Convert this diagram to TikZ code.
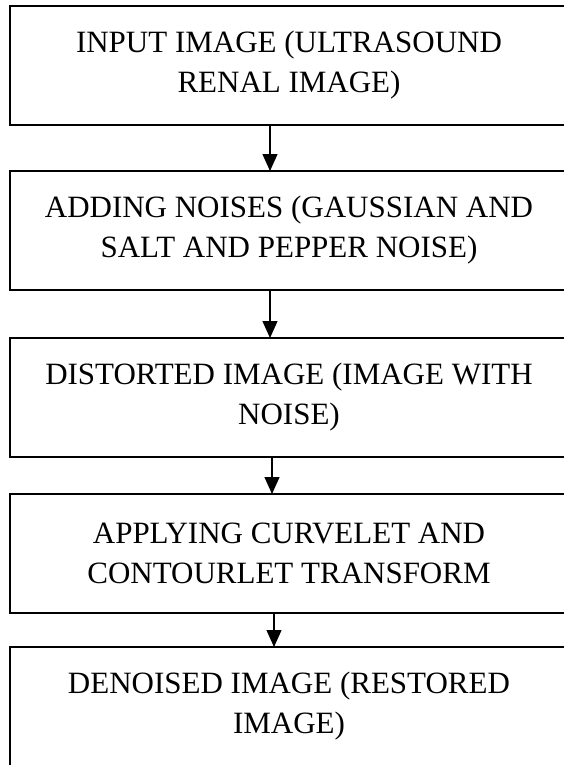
\documentclass[tikz,border=0pt]{standalone}
\usepackage{fontspec}
\setmainfont{Liberation Serif}
\usetikzlibrary{positioning,arrows.meta}
\begin{document}
\begin{tikzpicture}[line width=1.5pt,align=center,
    every node/.style={draw,rectangle,inner sep=0,outer sep=0,minimum width=558pt,minimum height=119pt,font=\fontsize{31}{40}\selectfont},
    flow/.style={line width=1.3pt,-{Triangle[width=15pt,length=17pt]}}]
    \useasboundingbox (0,0) rectangle (564pt,-765pt);
	\node (1) at (289pt,-65.5pt) {INPUT IMAGE (ULTRASOUND\\RENAL IMAGE)};
	\node (2) [below=46pt of 1] {ADDING NOISES (GAUSSIAN AND\\SALT AND PEPPER NOISE)};
	\node (3) [below=48pt of 2] {DISTORTED IMAGE (IMAGE WITH\\NOISE)};
	\node (4) [below=37pt of 3] {APPLYING CURVELET AND\\CONTOURLET TRANSFORM};
	\node (5) [below=34pt of 4] {DENOISED IMAGE (RESTORED\\IMAGE)};
    \path[flow]
        ([xshift=-19pt]1.south) edge ([xshift=-19pt]2.north)
        ([xshift=-19pt]2.south) edge ([xshift=-19pt]3.north)
        ([xshift=-17pt]3.south) edge ([xshift=-17pt]4.north)
        ([xshift=-15pt]4.south) edge ([xshift=-15pt]5.north);
\end{tikzpicture}
\end{document}
